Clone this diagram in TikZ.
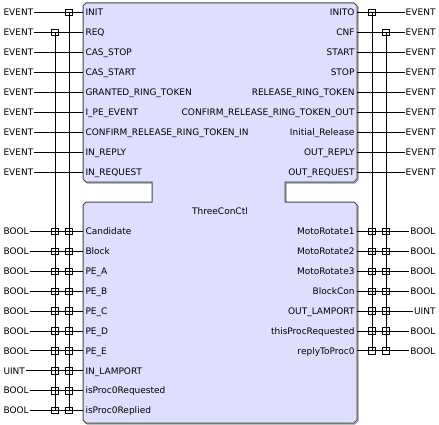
\documentclass[tikz,border=0pt]{standalone}
\usepackage{fontspec}
\setmainfont{DejaVu Sans}
\definecolor{fbfill}{RGB}{222,222,255}
\definecolor{fbline}{RGB}{70,70,70}
\definecolor{fbshadow}{RGB}{150,150,150}
\begin{document}
\begin{tikzpicture}[x=1pt,y=-1pt,line width=1pt,
  every node/.style={font=\fontsize{9}{10}\selectfont,inner sep=0.5pt,text height=6.5pt,text depth=0pt},
  portin/.style={anchor=west},
  portout/.style={anchor=east},
  typein/.style={anchor=west},
  typeout/.style={anchor=east},
  junct/.style={draw,rectangle,minimum size=6.5pt,inner sep=0pt,line width=0.8pt,text height=,text depth=}]

\useasboundingbox (0,0) rectangle (439,425);

% block outline, shadow first
\draw[fbshadow,shift={(1,1)}] (86,3) -- (354,3) -- (357,6) -- (357,179) -- (354,182) -- (285,182) -- (285,202) -- (354,202) -- (357,205) -- (357,420) -- (354,423) -- (86,423) -- (83,420) -- (83,205) -- (86,202) -- (152,202) -- (152,182) -- (86,182) -- (83,179) -- (83,6) -- cycle;
\draw[fill=fbfill,draw=fbline] (86,3) -- (354,3) -- (357,6) -- (357,179) -- (354,182) -- (285,182) -- (285,202) -- (354,202) -- (357,205) -- (357,420) -- (354,423) -- (86,423) -- (83,420) -- (83,205) -- (86,202) -- (152,202) -- (152,182) -- (86,182) -- (83,179) -- (83,6) -- cycle;

\node (title) at (220,211.5) {ThreeConCtl};

% event inputs
\foreach \lab [count=\i] in {INIT,REQ,CAS\_STOP,CAS\_START,GRANTED\_RING\_TOKEN,I\_PE\_EVENT,CONFIRM\_RELEASE\_RING\_TOKEN\_IN,IN\_REPLY,IN\_REQUEST}{
  \pgfmathsetmacro{\y}{12.5+20*(\i-1)}
  \node[portin] (ei\i) at (84.5,\y) {\lab};
  \node[typein] (eit\i) at (2.5,\y) {EVENT};
  \coordinate (eip\i) at (83,\y);
  \draw (eit\i.east) -- (eip\i);
}

% event outputs
\foreach \lab [count=\i] in {INITO,CNF,START,STOP,RELEASE\_RING\_TOKEN,CONFIRM\_RELEASE\_RING\_TOKEN\_OUT,Initial\_Release,OUT\_REPLY,OUT\_REQUEST}{
  \pgfmathsetmacro{\y}{12.5+20*(\i-1)}
  \node[portout] (eo\i) at (355.5,\y) {\lab};
  \node[typeout] (eot\i) at (436.5,\y) {EVENT};
  \coordinate (eop\i) at (357,\y);
  \draw (eop\i) -- (eot\i.west);
}

% data inputs
\foreach \lab/\typ [count=\i] in {Candidate/BOOL,Block/BOOL,PE\_A/BOOL,PE\_B/BOOL,PE\_C/BOOL,PE\_D/BOOL,PE\_E/BOOL,IN\_LAMPORT/UINT,isProc0Requested/BOOL,isProc0Replied/BOOL}{
  \pgfmathsetmacro{\y}{231.5+19.9*(\i-1)}
  \node[portin] (di\i) at (84.5,\y) {\lab};
  \node[typein] (dit\i) at (2.5,\y) {\typ};
  \coordinate (dip\i) at (83,\y);
  \node[junct] (dja\i) at (55,\y) {};
  \node[junct] (djb\i) at (69,\y) {};
  \draw (dit\i.east) -- (dip\i);
}

% data outputs
\foreach \lab/\typ [count=\i] in {MotoRotate1/BOOL,MotoRotate2/BOOL,MotoRotate3/BOOL,BlockCon/BOOL,OUT\_LAMPORT/UINT,thisProcRequested/BOOL,replyToProc0/BOOL}{
  \pgfmathsetmacro{\y}{231.5+19.9*(\i-1)}
  \node[portout] (do\i) at (355.5,\y) {\lab};
  \node[typeout] (dot\i) at (436.5,\y) {\typ};
  \coordinate (dop\i) at (357,\y);
  \node[junct] (doja\i) at (372,\y) {};
  \node[junct] (dojb\i) at (386,\y) {};
  \draw (dop\i) -- (dot\i.west);
}

% with-lines
\node[junct] (wINIT) at (69,12.5) {};
\node[junct] (wREQ) at (55,32.5) {};
\node[junct] (wINITO) at (372,12.5) {};
\node[junct] (wCNF) at (386,32.5) {};
\draw (wINIT.center) -- (djb10.center);
\draw (wREQ.center) -- (dja10.center);
\draw (wINITO.center) -- (doja7.center);
\draw (wCNF.center) -- (dojb7.center);

\end{tikzpicture}
\end{document}
